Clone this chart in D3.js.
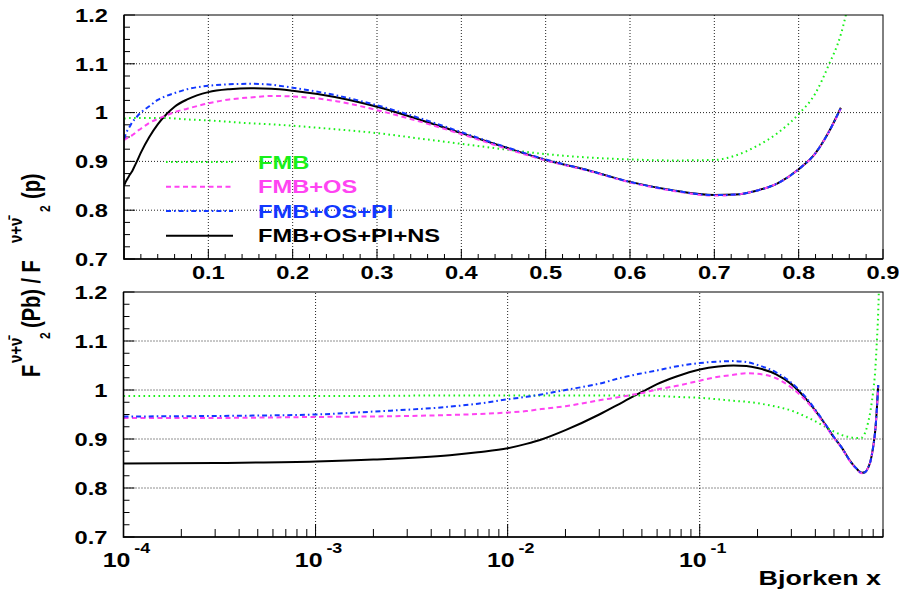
<!DOCTYPE html>
<html>
<head>
<meta charset="utf-8">
<script src="https://cdn.jsdelivr.net/npm/d3@7"></script>
<style>
  body { margin: 0; background: #fff; }
  svg { display: block; font-family: "Liberation Sans", Arial, Helvetica, sans-serif; }
</style>
</head>
<body>
<svg id="chart" width="899" height="591"></svg>
<script>
// Bjorken x values shared by all curves
const xs = [0.0001, 0.0003, 0.001, 0.002, 0.005, 0.007, 0.01, 0.0125, 0.015, 0.02, 0.03, 0.04, 0.05, 0.06, 0.075,
  0.1, 0.125, 0.15, 0.175, 0.2, 0.25, 0.3, 0.35, 0.4, 0.45, 0.5, 0.55, 0.6, 0.65, 0.7, 0.725,
  0.75, 0.775, 0.8, 0.82, 0.835, 0.85, 0.86];

const fmb = [0.988, 0.988, 0.988, 0.988, 0.989, 0.989, 0.989, 0.989, 0.989, 0.989, 0.989, 0.989, 0.989, 0.988, 0.986,
  0.984, 0.981, 0.978, 0.976, 0.973, 0.966, 0.958, 0.947, 0.936, 0.925, 0.915, 0.908, 0.904, 0.902, 0.903, 0.912,
  0.931, 0.958, 0.997, 1.040, 1.095, 1.160, 1.230];

const fmbOs = [0.943, 0.943, 0.945, 0.946, 0.949, 0.951, 0.954, 0.957, 0.961, 0.967, 0.979, 0.987, 0.994, 1.001, 1.008,
  1.019, 1.027, 1.031, 1.034, 1.033, 1.024, 1.005, 0.982, 0.956, 0.928, 0.902, 0.881, 0.857, 0.840, 0.830, 0.832,
  0.840, 0.855, 0.884, 0.917, 0.958, 1.008, null];

const fmbOsPi = [0.946, 0.947, 0.950, 0.956, 0.966, 0.972, 0.981, 0.986, 0.991, 1.000, 1.013, 1.026, 1.034, 1.040, 1.048,
  1.055, 1.058, 1.059, 1.057, 1.051, 1.036, 1.015, 0.989, 0.960, 0.931, 0.904, 0.882, 0.858, 0.841, 0.831, 0.832,
  0.840, 0.855, 0.884, 0.917, 0.958, 1.010, null];

const fmbOsPiNs = [0.850, 0.851, 0.854, 0.858, 0.867, 0.873, 0.881, 0.890, 0.899, 0.918, 0.950, 0.976, 0.996, 1.012, 1.027,
  1.042, 1.048, 1.050, 1.049, 1.045, 1.032, 1.012, 0.986, 0.958, 0.930, 0.903, 0.882, 0.858, 0.841, 0.831, 0.832,
  0.840, 0.855, 0.884, 0.917, 0.958, 1.010, null];

const legendNames = ["FMB", "FMB+OS", "FMB+OS+PI", "FMB+OS+PI+NS"];
const yTicks = [0.7, 0.8, 0.9, 1.0, 1.1, 1.2];
const xTicksLin = [0.1, 0.2, 0.3, 0.4, 0.5, 0.6, 0.7, 0.8, 0.9];
const xDecades = [-4, -3, -2, -1];

const series = [
  { name: legendNames[3], values: fmbOsPiNs, color: "#000000", dash: null, width: 2 },
  { name: legendNames[0], values: fmb, color: "#19f019", dash: "1.6,3.4", width: 2 },
  { name: legendNames[1], values: fmbOs, color: "#ff44f2", dash: "5,3.5", width: 2 },
  { name: legendNames[2], values: fmbOsPi, color: "#1238ff", dash: "5,3,1.6,3", width: 2 }
];

const SX = 1.28; // the original figure is stretched horizontally
const svg = d3.select("#chart");

function label(parent, x, y, anchor, size, str) {
  return parent.append("g")
    .attr("transform", `translate(${x},${y}) scale(${SX},1)`)
    .append("text")
    .attr("text-anchor", anchor)
    .attr("font-size", size)
    .attr("font-weight", "bold")
    .text(str);
}

const panels = [
  {
    id: "top",
    x: d3.scaleLinear().domain([0, 0.9]).range([124, 883]),
    y: d3.scaleLinear().domain([0.7, 1.2]).range([259, 15]),
    log: false
  },
  {
    id: "bot",
    x: d3.scaleLog().domain([1e-4, 0.9]).range([123.5, 883]),
    y: d3.scaleLinear().domain([0.7, 1.2]).range([537, 292]),
    log: true
  }
];

panels.forEach(p => {
  const [x0, x1] = p.x.range();
  const [y0, y1] = p.y.range();
  const g = svg.append("g");

  svg.append("clipPath").attr("id", "clip-" + p.id)
    .append("rect").attr("x", x0).attr("y", y1).attr("width", x1 - x0).attr("height", y0 - y1);

  // grid
  const gx = p.log ? xDecades.slice(1).map(d => Math.pow(10, d)) : xTicksLin.slice(0, -1);
  g.selectAll(".gx").data(gx).join("line")
    .attr("x1", d => p.x(d)).attr("x2", d => p.x(d))
    .attr("y1", y0).attr("y2", y1)
    .attr("stroke", "#222").attr("stroke-width", 1).attr("stroke-dasharray", "1,2");
  g.selectAll(".gy").data(yTicks.slice(1, -1)).join("line")
    .attr("x1", x0).attr("x2", x1)
    .attr("y1", d => p.y(d)).attr("y2", d => p.y(d))
    .attr("stroke", "#222").attr("stroke-width", 1).attr("stroke-dasharray", "1,2");

  // y ticks (inside)
  const yMinor = d3.range(0, 21).map(i => 0.7 + i * 0.025);
  g.selectAll(".ty").data(yMinor).join("line")
    .attr("x1", x0).attr("x2", (d, i) => x0 + (i % 4 === 0 ? 11 : 6))
    .attr("y1", d => p.y(d)).attr("y2", d => p.y(d))
    .attr("stroke", "#000").attr("stroke-width", 1);

  // x ticks (inside)
  let xMinor;
  if (p.log) {
    xMinor = [];
    xDecades.forEach(dec => {
      for (let k = 1; k <= 9; k++) {
        const v = k * Math.pow(10, dec);
        if (v <= 0.9 + 1e-9) xMinor.push({ v: v, major: k === 1 });
      }
    });
  } else {
    xMinor = d3.range(0, 46).map(i => ({ v: i * 0.02, major: i % 5 === 0 }));
  }
  g.selectAll(".tx").data(xMinor).join("line")
    .attr("x1", d => p.x(d.v)).attr("x2", d => p.x(d.v))
    .attr("y1", y0).attr("y2", d => y0 - (d.major ? (p.log ? 13 : 10) : (p.log ? 8 : 5)))
    .attr("stroke", "#000").attr("stroke-width", 1);

  // curves
  const line = d3.line()
    .defined(d => d[1] != null)
    .x(d => p.x(d[0]))
    .y(d => p.y(d[1]))
    .curve(d3.curveMonotoneX);

  const cg = g.append("g").attr("clip-path", `url(#clip-${p.id})`);
  series.forEach(s => {
    cg.append("path")
      .datum(xs.map((x, i) => [x, s.values[i]]))
      .attr("d", line)
      .attr("fill", "none")
      .attr("stroke", s.color)
      .attr("stroke-width", s.width)
      .attr("stroke-dasharray", s.dash);
  });

  // frame
  g.append("rect").attr("x", x0).attr("y", y1).attr("width", x1 - x0).attr("height", y0 - y1)
    .attr("fill", "none").attr("stroke", "#000").attr("stroke-width", 1);
  g.append("path").attr("d", `M${x0},${y1}V${y0}H${x1}`)
    .attr("fill", "none").attr("stroke", "#000").attr("stroke-width", 1.6);

  // y tick labels
  yTicks.forEach(v => {
    label(g, x0 - 16, p.y(v) + 6.7, "end", 18.5, v === 1 ? "1" : v.toFixed(1));
  });

  // x tick labels
  if (p.log) {
    xDecades.forEach(dec => {
      const t = label(g, p.x(Math.pow(10, dec)) + 3, 567, "middle", 19.5, "10");
      t.append("tspan").attr("dx", 3).attr("dy", -14).attr("font-size", 14).text(String(dec));
    });
  } else {
    xTicksLin.forEach(v => label(g, p.x(v), 279, "middle", 18.5, v.toFixed(1)));
  }
});

// legend
const legendY = [162, 186.7, 211, 235.7];
const legendOrder = [1, 2, 3, 0];
legendOrder.forEach((si, i) => {
  const s = series[si];
  svg.append("line")
    .attr("x1", 166).attr("x2", 233)
    .attr("y1", legendY[i]).attr("y2", legendY[i])
    .attr("stroke", s.color).attr("stroke-width", s.width)
    .attr("stroke-dasharray", s.dash);
  label(svg, 258, legendY[i] + 6.5, "start", 18.5, s.name).attr("fill", s.color);
});

// axis titles
label(svg, 881, 585, "end", 21, "Bjorken x");

const yt = svg.append("g")
  .attr("transform", `translate(40,377) scale(${SX},1) rotate(-90)`)
  .append("text")
  .attr("font-weight", "bold")
  .attr("font-size", 20);
const nu = "\u03bd+\u03bd\u0304";
yt.append("tspan").attr("x", 0).attr("y", 0).text("F");
yt.append("tspan").attr("x", 14).attr("y", -14).attr("font-size", 15).text(nu);
yt.append("tspan").attr("x", 38).attr("y", 8).attr("font-size", 12).text("2");
yt.append("tspan").attr("x", 49).attr("y", 0).text("(Pb) / F");
yt.append("tspan").attr("x", 134).attr("y", -14).attr("font-size", 15).text(nu);
yt.append("tspan").attr("x", 165).attr("y", 8).attr("font-size", 12).text("2");
yt.append("tspan").attr("x", 178).attr("y", 0).text("(p)");
</script>
</body>
</html>
